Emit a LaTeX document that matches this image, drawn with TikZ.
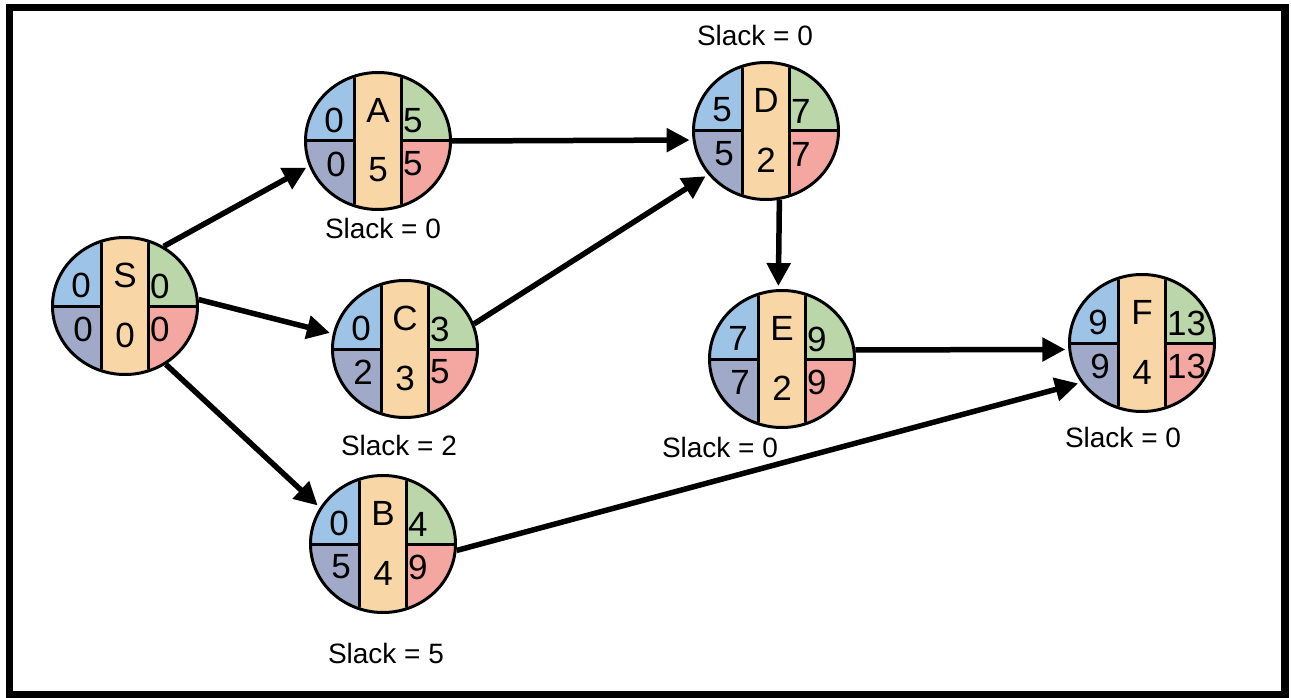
\documentclass[tikz,border=0pt]{standalone}
\usepackage{fontspec}
\setmainfont{Liberation Sans}
\usetikzlibrary{arrows.meta,shapes.geometric}

\definecolor{esfill}{RGB}{157,195,230}
\definecolor{lsfill}{RGB}{160,170,200}
\definecolor{durfill}{RGB}{248,214,166}
\definecolor{effill}{RGB}{187,215,170}
\definecolor{lffill}{RGB}{243,167,160}

\tikzset{
  pert/.style={draw, ellipse, line width=3pt, minimum width=145pt, minimum height=137pt, inner sep=0pt},
  divider/.style={line width=3pt},
  cell/.style={inner sep=0pt, font=\fontsize{35}{40}\selectfont},
  slack/.style={inner sep=0pt, font=\fontsize{28}{32}\selectfont},
  conn/.style={line width=5.5pt, -{Triangle[length=23pt,width=23pt]}, shorten >=3pt}
}

% #1 name, #2 centre, #3 activity, #4 ES, #5 EF, #6 LS, #7 LF, #8 duration
\newcommand{\pertnode}[8]{%
  \begin{scope}[shift={#2}]
    \begin{scope}
      \clip (0,0) ellipse [x radius=71pt, y radius=67pt];
      \fill[esfill]  (-80,-80) rectangle (-23.5,0);
      \fill[lsfill]  (-80,0)   rectangle (-23.5,80);
      \fill[durfill] (-23.5,-80) rectangle (23.5,80);
      \fill[effill]  (23.5,-80) rectangle (80,0);
      \fill[lffill]  (23.5,0)   rectangle (80,80);
      \draw[divider] (-23.5,-80) -- (-23.5,80) (23.5,-80) -- (23.5,80)
                     (-80,0) -- (-23.5,0) (23.5,0) -- (80,0);
    \end{scope}
    \node[cell] (#1-name) at (0,-31) {#3};
    \node[cell] (#1-dur)  at (0,29) {#8};
    \node[cell, anchor=east] (#1-es) at (-34,-21) {#4};
    \node[cell, anchor=east] (#1-ls) at (-32,23) {#6};
    \node[cell, anchor=west] (#1-ef) at (25,-20) {#5};
    \node[cell, anchor=west] (#1-lf) at (25,23) {#7};
  \end{scope}
  \node[pert] (#1) at #2 {};
}

\begin{document}
\begin{tikzpicture}[x=1pt, y=-1pt]
  \useasboundingbox (0,0) rectangle (1291,698);
  % frame
  \fill[black] (6,4) rectangle (1289,698);
  \fill[white] (13,11) rectangle (1281,691);

  % activities
  \pertnode{S}{(125,306)}{S}{0}{0}{0}{0}{0}
  \pertnode{A}{(378,141)}{A}{0}{5}{0}{5}{5}
  \pertnode{C}{(405,349)}{C}{0}{3}{2}{5}{3}
  \pertnode{B}{(383,544)}{B}{0}{4}{5}{9}{4}
  \pertnode{D}{(766,131)}{D}{5}{7}{5}{7}{2}
  \pertnode{E}{(782,359)}{E}{7}{9}{7}{9}{2}
  \pertnode{F}{(1142,343)}{F}{9}{13}{9}{13}{4}

  % slack labels
  \node[slack] (slack-A) at (383,228) {Slack = 0};
  \node[slack] (slack-C) at (399,445) {Slack = 2};
  \node[slack] (slack-B) at (386,653) {Slack = 5};
  \node[slack] (slack-D) at (755,35)  {Slack = 0};
  \node[slack] (slack-E) at (720,447) {Slack = 0};
  \node[slack] (slack-F) at (1123,437) {Slack = 0};

  % precedence arrows
  \draw[conn] (S.57)  -- (A.200);
  \draw[conn] (S.5)   -- (C.168);
  \draw[conn] (S.305) -- (B.150);
  \draw[conn] (A.0)   -- (D.187);
  \draw[conn] (C.20)  -- (D.217);
  \draw[conn] (D.-79) -- (E.93);
  \draw[conn] (E.7)   -- (F.185);
  \draw[conn] (B.355) -- (F.213);
\end{tikzpicture}
\end{document}
